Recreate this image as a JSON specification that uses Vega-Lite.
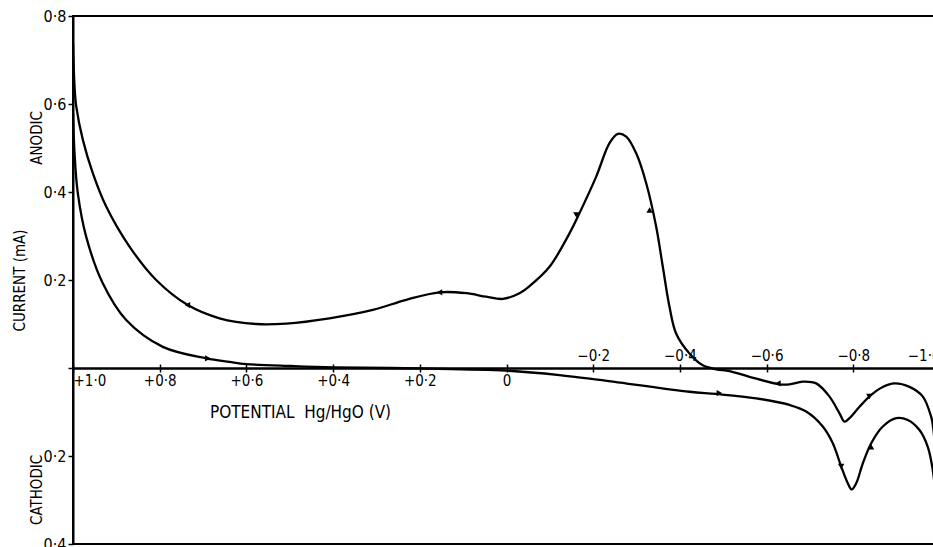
{
  "$schema": "https://vega.github.io/schema/vega-lite/v6.json",
  "width": 867,
  "height": 528,
  "autosize": {"type": "none"},
  "padding": {"left": 73, "top": 16, "right": -7, "bottom": 3},
  "background": "white",
  "view": {"stroke": "black", "strokeWidth": 2},
  "config": {
    "font": "'DejaVu Sans Condensed', 'DejaVu Sans', sans-serif",
    "axis": {"domainColor": "black", "tickColor": "black", "labelColor": "black", "titleColor": "black", "grid": false, "domainWidth": 2, "tickWidth": 1.5}
  },
  "datasets": {
    "curve": [
      {"branch": "upper", "potential": 1.0, "current": 0.74},
      {"branch": "upper", "potential": 0.9965, "current": 0.641},
      {"branch": "upper", "potential": 0.9926, "current": 0.595},
      {"branch": "upper", "potential": 0.9774, "current": 0.519},
      {"branch": "upper", "potential": 0.9543, "current": 0.443},
      {"branch": "upper", "potential": 0.9234, "current": 0.367},
      {"branch": "upper", "potential": 0.8697, "current": 0.276},
      {"branch": "upper", "potential": 0.8081, "current": 0.2},
      {"branch": "upper", "potential": 0.7352, "current": 0.143},
      {"branch": "upper", "potential": 0.662, "current": 0.113},
      {"branch": "upper", "potential": 0.5774, "current": 0.1},
      {"branch": "upper", "potential": 0.5082, "current": 0.101},
      {"branch": "upper", "potential": 0.4083, "current": 0.113},
      {"branch": "upper", "potential": 0.3084, "current": 0.132},
      {"branch": "upper", "potential": 0.2314, "current": 0.155},
      {"branch": "upper", "potential": 0.1545, "current": 0.172},
      {"branch": "upper", "potential": 0.093, "current": 0.17},
      {"branch": "upper", "potential": 0.0468, "current": 0.162},
      {"branch": "upper", "potential": 0.0085, "current": 0.157},
      {"branch": "upper", "potential": -0.03, "current": 0.17},
      {"branch": "upper", "potential": -0.053, "current": 0.186},
      {"branch": "upper", "potential": -0.0992, "current": 0.23},
      {"branch": "upper", "potential": -0.1453, "current": 0.306},
      {"branch": "upper", "potential": -0.1684, "current": 0.352},
      {"branch": "upper", "potential": -0.2069, "current": 0.435},
      {"branch": "upper", "potential": -0.2376, "current": 0.511},
      {"branch": "upper", "potential": -0.2568, "current": 0.532},
      {"branch": "upper", "potential": -0.2761, "current": 0.526},
      {"branch": "upper", "potential": -0.2992, "current": 0.488},
      {"branch": "upper", "potential": -0.3223, "current": 0.42},
      {"branch": "upper", "potential": -0.3453, "current": 0.321},
      {"branch": "upper", "potential": -0.3606, "current": 0.23},
      {"branch": "upper", "potential": -0.376, "current": 0.139},
      {"branch": "upper", "potential": -0.3915, "current": 0.078},
      {"branch": "upper", "potential": -0.4221, "current": 0.033},
      {"branch": "upper", "potential": -0.4528, "current": 0.006},
      {"branch": "upper", "potential": -0.4837, "current": -0.003},
      {"branch": "upper", "potential": -0.5144, "current": -0.007},
      {"branch": "upper", "potential": -0.5605, "current": -0.02},
      {"branch": "upper", "potential": -0.6297, "current": -0.037},
      {"branch": "upper", "potential": -0.6528, "current": -0.037},
      {"branch": "upper", "potential": -0.6835, "current": -0.031},
      {"branch": "upper", "potential": -0.7144, "current": -0.035},
      {"branch": "upper", "potential": -0.7451, "current": -0.065},
      {"branch": "upper", "potential": -0.7682, "current": -0.103},
      {"branch": "upper", "potential": -0.7797, "current": -0.122},
      {"branch": "upper", "potential": -0.7912, "current": -0.114},
      {"branch": "upper", "potential": -0.8143, "current": -0.088},
      {"branch": "upper", "potential": -0.8413, "current": -0.061},
      {"branch": "upper", "potential": -0.8681, "current": -0.043},
      {"branch": "upper", "potential": -0.8951, "current": -0.035},
      {"branch": "upper", "potential": -0.9297, "current": -0.043},
      {"branch": "upper", "potential": -0.9604, "current": -0.065},
      {"branch": "upper", "potential": -0.9797, "current": -0.111},
      {"branch": "upper", "potential": -0.9827, "current": -0.125},
      {"branch": "upper", "potential": -0.99, "current": -0.19},
      {"branch": "upper", "potential": -1.0, "current": -0.32},
      {"branch": "lower", "potential": 1.0, "current": 0.58},
      {"branch": "lower", "potential": 0.9965, "current": 0.489},
      {"branch": "lower", "potential": 0.989, "current": 0.398},
      {"branch": "lower", "potential": 0.9695, "current": 0.298},
      {"branch": "lower", "potential": 0.9313, "current": 0.1925},
      {"branch": "lower", "potential": 0.8773, "current": 0.109},
      {"branch": "lower", "potential": 0.7928, "current": 0.048},
      {"branch": "lower", "potential": 0.6927, "current": 0.022},
      {"branch": "lower", "potential": 0.639, "current": 0.014},
      {"branch": "lower", "potential": 0.6005, "current": 0.009},
      {"branch": "lower", "potential": 0.493, "current": 0.0045},
      {"branch": "lower", "potential": 0.399, "current": 0.0016},
      {"branch": "lower", "potential": 0.2007, "current": -0.001},
      {"branch": "lower", "potential": 0.0007, "current": -0.006},
      {"branch": "lower", "potential": -0.122, "current": -0.016},
      {"branch": "lower", "potential": -0.2145, "current": -0.027},
      {"branch": "lower", "potential": -0.4221, "current": -0.054},
      {"branch": "lower", "potential": -0.4837, "current": -0.059},
      {"branch": "lower", "potential": -0.576, "current": -0.069},
      {"branch": "lower", "potential": -0.6528, "current": -0.084},
      {"branch": "lower", "potential": -0.6913, "current": -0.099},
      {"branch": "lower", "potential": -0.7296, "current": -0.133},
      {"branch": "lower", "potential": -0.7527, "current": -0.171},
      {"branch": "lower", "potential": -0.7721, "current": -0.224},
      {"branch": "lower", "potential": -0.7873, "current": -0.262},
      {"branch": "lower", "potential": -0.7965, "current": -0.276},
      {"branch": "lower", "potential": -0.8067, "current": -0.262},
      {"branch": "lower", "potential": -0.8219, "current": -0.217},
      {"branch": "lower", "potential": -0.8413, "current": -0.171},
      {"branch": "lower", "potential": -0.8681, "current": -0.133},
      {"branch": "lower", "potential": -0.899, "current": -0.114},
      {"branch": "lower", "potential": -0.9257, "current": -0.118},
      {"branch": "lower", "potential": -0.9527, "current": -0.141},
      {"branch": "lower", "potential": -0.9718, "current": -0.179},
      {"branch": "lower", "potential": -0.982, "current": -0.224},
      {"branch": "lower", "potential": -0.99, "current": -0.28},
      {"branch": "lower", "potential": -1.0, "current": -0.33}
    ],
    "arrows": [
      {"potential": 0.736, "current": 0.143, "dir": "left"},
      {"potential": 0.1545, "current": 0.172, "dir": "left"},
      {"potential": -0.161, "current": 0.348, "dir": "down"},
      {"potential": -0.33, "current": 0.359, "dir": "up"},
      {"potential": -0.626, "current": -0.035, "dir": "left"},
      {"potential": -0.837, "current": -0.065, "dir": "down"},
      {"potential": 0.689, "current": 0.022, "dir": "right"},
      {"potential": -0.491, "current": -0.057, "dir": "right"},
      {"potential": -0.772, "current": -0.224, "dir": "down"},
      {"potential": -0.841, "current": -0.179, "dir": "up"}
    ],
    "notes": [
      {"potential": 1.084, "current": 0.523, "label": "ANODIC"},
      {"potential": 1.084, "current": -0.277, "label": "CATHODIC"}
    ]
  },
  "resolve": {"axis": {"x": "independent", "y": "independent"}},
  "layer": [
    {
      "data": {"name": "curve"},
      "mark": {"type": "line", "color": "black", "strokeWidth": 2.3, "interpolate": "catmull-rom", "clip": true},
      "encoding": {
        "x": {
          "field": "potential", "type": "quantitative",
          "scale": {"domain": [1.0, -1.0], "nice": false, "zero": false},
          "axis": {
            "orient": "bottom", "offset": -176,
            "values": [1, 0.8, 0.6, 0.4, 0.2, 0, -0.2, -0.4, -0.6, -0.8, -1],
            "tickSize": 4,
            "labelExpr": "datum.value > 0 ? '+' + replace(format(datum.value, '.1f'), '.', '·') : (datum.value == 0 ? '0' : '')",
            "labelFontSize": 15, "labelPadding": 1, "labelFlush": true,
            "title": "POTENTIAL\u00a0\u00a0Hg/HgO (V)",
            "titleX": 227, "titleY": 44, "titleAlign": "center", "titleBaseline": "middle",
            "titleFontSize": 17, "titleFontWeight": "normal"
          }
        },
        "y": {
          "field": "current", "type": "quantitative",
          "scale": {"domain": [-0.4, 0.8], "nice": false, "zero": false},
          "axis": {
            "orient": "left",
            "values": [-0.4, -0.2, 0, 0.2, 0.4, 0.6, 0.8],
            "labelExpr": "datum.value == 0 ? '' : replace(format(abs(datum.value), '.1f'), '.', '·')",
            "tickSize": 5, "labelFontSize": 16, "labelPadding": 2, "labelFlush": false,
            "title": "CURRENT (mA)",
            "titleX": -54, "titleY": 264, "titleAngle": -90, "titleAlign": "center", "titleBaseline": "middle",
            "titleFontSize": 15, "titleFontWeight": "normal"
          }
        },
        "detail": {"field": "branch", "type": "nominal"}
      }
    },
    {
      "data": {"name": "arrows"},
      "mark": {"type": "point", "filled": true, "color": "black", "size": 40, "opacity": 1},
      "encoding": {
        "x": {
          "field": "potential", "type": "quantitative",
          "axis": {
            "orient": "top", "offset": -352,
            "values": [1, 0.8, 0.6, 0.4, 0.2, 0, -0.2, -0.4, -0.6, -0.8, -1],
            "tickSize": 4,
            "labelExpr": "datum.value < 0 ? replace(format(datum.value, '.1f'), '.', '·') : ''",
            "labelFontSize": 15, "labelPadding": 1, "labelFlush": true,
            "title": null
          }
        },
        "y": {"field": "current", "type": "quantitative", "axis": null},
        "shape": {
          "field": "dir", "type": "nominal",
          "scale": {"domain": ["left", "right", "up", "down"], "range": ["triangle-left", "triangle-right", "triangle-up", "triangle-down"]},
          "legend": null
        }
      }
    },
    {
      "data": {"name": "notes"},
      "mark": {"type": "text", "angle": 270, "align": "center", "baseline": "middle", "fontSize": 15, "color": "black"},
      "encoding": {
        "x": {"field": "potential", "type": "quantitative", "axis": null},
        "y": {"field": "current", "type": "quantitative", "axis": null},
        "text": {"field": "label", "type": "nominal"}
      }
    }
  ]
}
